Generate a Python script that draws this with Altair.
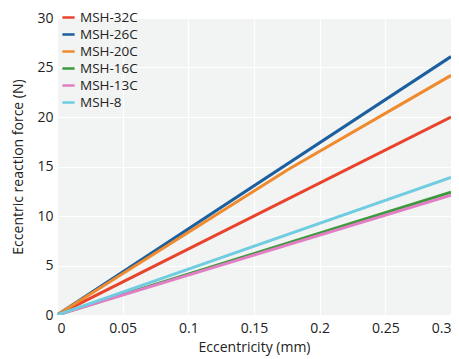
import altair as alt
import pandas as pd

series = ["MSH-32C", "MSH-26C", "MSH-20C", "MSH-16C", "MSH-13C", "MSH-8"]
colors = ["#e8442c", "#1b5f9f", "#ef8a2d", "#3a9a3c", "#e27fc4", "#70cce0"]
x_32c = [0, 0.3]
y_32c = [0, 20.0]
x_26c = [0, 0.3]
y_26c = [0, 26.1]
x_20c = [0, 0.176, 0.3]
y_20c = [0, 14.7, 24.2]
x_16c = [0, 0.3]
y_16c = [0, 12.4]
x_13c = [0, 0.3]
y_13c = [0, 12.1]
x_8 = [0, 0.3]
y_8 = [0, 13.9]

rows = []
for name, xs, ys in [
    ("MSH-32C", x_32c, y_32c), ("MSH-26C", x_26c, y_26c), ("MSH-20C", x_20c, y_20c),
    ("MSH-16C", x_16c, y_16c), ("MSH-13C", x_13c, y_13c), ("MSH-8", x_8, y_8),
]:
    for i, (a, b) in enumerate(zip(xs, ys)):
        rows.append({"series": name, "x": a, "y": b, "o": i})
df = pd.DataFrame(rows)

font = "Open Sans"
chart = alt.Chart(df).mark_line(strokeWidth=3, clip=True).encode(
    x=alt.X("x:Q", scale=alt.Scale(domain=[0, 0.3], nice=False),
            axis=alt.Axis(title="Eccentricity (mm)", values=[0, 0.05, 0.1, 0.15, 0.2, 0.25, 0.3],
                          labelExpr="datum.value == 0 ? '0' : format(datum.value, '.2~f')")),
    y=alt.Y("y:Q", scale=alt.Scale(domain=[0, 30], nice=False),
            axis=alt.Axis(title="Eccentric reaction force (N)", values=[0, 5, 10, 15, 20, 25, 30])),
    color=alt.Color("series:N", scale=alt.Scale(domain=series, range=colors),
                    legend=alt.Legend(title=None, orient="none", legendX=4, legendY=-8,
                                      symbolType="stroke", symbolStrokeWidth=2.5, symbolSize=150,
                                      labelFontSize=13.5, labelFont=font, labelColor="#222",
                                      rowPadding=3, labelLimit=200)),
    order="o:Q",
).properties(
    width=394, height=297,
    padding={"left": 49, "top": 10, "right": 0, "bottom": 44},
    autosize=alt.AutoSizeParams(type="none"),
).configure_view(
    fill="#f2f3f3", stroke=None
).configure_axis(
    grid=True, gridColor="#ffffff", gridWidth=1.2, domain=False, ticks=False,
    labelFont=font, titleFont=font, labelFontSize=14, titleFontSize=14,
    labelColor="#222", titleColor="#222", titleFontWeight="normal",
).configure_axisY(titlePadding=11, labelPadding=4).configure_axisX(titlePadding=5, labelPadding=6)

chart.save("out.html", embed_options={"renderer": "svg", "actions": False})
